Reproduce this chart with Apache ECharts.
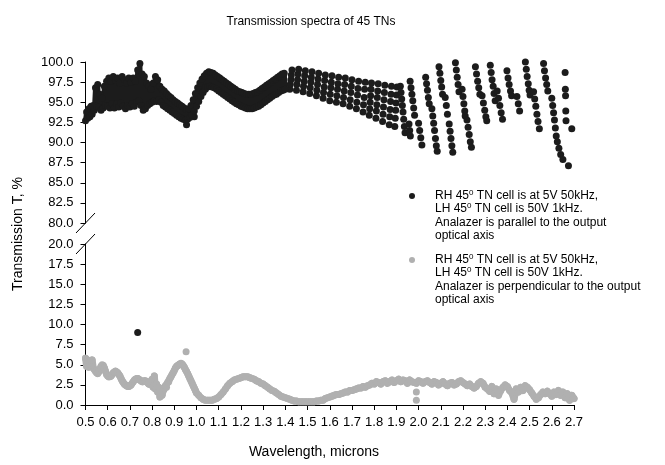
<!DOCTYPE html>
<html>
<head>
<meta charset="utf-8">
<script src="https://cdn.jsdelivr.net/npm/echarts@6/dist/echarts.min.js"></script>
<style>
  html, body { margin: 0; padding: 0; background: #fff; }
  #chart { width: 665px; height: 465px; }
</style>
</head>
<body>
<div id="chart"></div>
<script>
// x ticks (microns) and y ticks for the two halves of the broken axis
const xTicks = [0.5, 2.7, 0.1];
const upperTicks = [80, 100, 2.5];
const lowerTicks = [0, 20, 2.5];

// parallel analyzer, densely sampled part (drawn as a thick zigzag)
const parallelDense = [
  [0.500, 92.7], [0.505, 93.8], [0.510, 93.0], [0.515, 94.2], [0.520, 93.2], [0.525, 94.5],
  [0.530, 93.5], [0.535, 94.6], [0.540, 94.0], [0.545, 96.8], [0.550, 94.5], [0.555, 97.2],
  [0.560, 94.4], [0.565, 96.0], [0.570, 94.0], [0.575, 95.5], [0.580, 94.3], [0.585, 97.0],
  [0.590, 94.6], [0.595, 97.6], [0.600, 94.5], [0.605, 98.0], [0.610, 94.3], [0.615, 97.6],
  [0.620, 94.8], [0.625, 98.2], [0.630, 94.3], [0.635, 97.7], [0.640, 94.8], [0.645, 98.0],
  [0.650, 94.4], [0.655, 97.4], [0.660, 94.9], [0.665, 98.2], [0.670, 94.5], [0.675, 97.8],
  [0.680, 94.2], [0.685, 97.4], [0.690, 94.6], [0.695, 98.0], [0.700, 94.4], [0.705, 97.5],
  [0.710, 94.8], [0.715, 98.0], [0.720, 94.5], [0.725, 97.6], [0.730, 95.0], [0.735, 99.0],
  [0.740, 95.2], [0.745, 99.8], [0.750, 94.6], [0.755, 98.5], [0.760, 94.0], [0.765, 98.2],
  [0.770, 94.2], [0.775, 97.4], [0.780, 94.6], [0.785, 97.0], [0.790, 94.8], [0.795, 96.6],
  [0.800, 95.0], [0.805, 97.4], [0.810, 95.2], [0.815, 98.2], [0.820, 95.1], [0.825, 97.8],
  [0.830, 95.3], [0.835, 97.0], [0.840, 95.0], [0.845, 96.6], [0.850, 94.6], [0.855, 96.4],
  [0.860, 94.4], [0.865, 96.1], [0.870, 94.2], [0.875, 95.8], [0.880, 94.0], [0.885, 95.6],
  [0.890, 93.8], [0.895, 95.3], [0.900, 93.6], [0.905, 95.1], [0.910, 93.4], [0.915, 94.9],
  [0.920, 93.2], [0.925, 94.7], [0.930, 93.0], [0.935, 94.5], [0.940, 92.9], [0.945, 94.3],
  [0.950, 92.8], [0.955, 94.1], [0.960, 92.9], [0.965, 94.2], [0.970, 93.1], [0.975, 94.6],
  [0.980, 93.4], [0.985, 95.3], [0.990, 93.9], [0.995, 96.1], [1.000, 94.5], [1.005, 96.8],
  [1.010, 95.1], [1.015, 97.4], [1.020, 95.7], [1.025, 97.9], [1.030, 96.2], [1.035, 98.3],
  [1.040, 96.6], [1.045, 98.6], [1.050, 96.9], [1.055, 98.8], [1.060, 97.0], [1.065, 98.7],
  [1.070, 96.9], [1.075, 98.6], [1.080, 96.8], [1.085, 98.4], [1.090, 96.6], [1.095, 98.2],
  [1.100, 96.4], [1.105, 98.0], [1.110, 96.2], [1.115, 97.8], [1.120, 96.0], [1.125, 97.6],
  [1.130, 95.8], [1.135, 97.4], [1.140, 95.6], [1.145, 97.2], [1.150, 95.4], [1.155, 97.0],
  [1.160, 95.2], [1.165, 96.8], [1.170, 95.0], [1.175, 96.6], [1.180, 94.8], [1.185, 96.4],
  [1.190, 94.7], [1.195, 96.3], [1.200, 94.5], [1.205, 96.2], [1.210, 94.4], [1.215, 96.1],
  [1.220, 94.3], [1.225, 96.0], [1.230, 94.2], [1.235, 96.0], [1.240, 94.2], [1.245, 96.0],
  [1.250, 94.2], [1.255, 96.1], [1.260, 94.3], [1.265, 96.2], [1.270, 94.4], [1.275, 96.3],
  [1.280, 94.5], [1.285, 96.5], [1.290, 94.7], [1.295, 96.7], [1.300, 94.9], [1.305, 96.9],
  [1.310, 95.1], [1.315, 97.1], [1.320, 95.3], [1.325, 97.3], [1.330, 95.5], [1.335, 97.5],
  [1.340, 95.7], [1.345, 97.7], [1.350, 95.9], [1.355, 97.9], [1.360, 96.0], [1.365, 98.1],
  [1.370, 96.2], [1.375, 98.3], [1.380, 96.4], [1.385, 98.5], [1.390, 96.5], [1.395, 98.6],
  [1.400, 96.6]
];

// parallel analyzer, longer wavelengths: columns of separate dots
const parallelSparse = [
  [1.420, 96.6], [1.422, 97.2], [1.425, 97.8], [1.427, 98.4], [1.430, 99.0],
  [1.450, 96.5], [1.452, 97.2], [1.455, 97.8], [1.457, 98.5], [1.460, 99.1],
  [1.480, 96.3], [1.482, 97.0], [1.485, 97.6], [1.487, 98.3], [1.490, 98.9],
  [1.510, 96.1], [1.512, 96.8], [1.515, 97.5], [1.517, 98.1], [1.520, 98.8],
  [1.540, 95.8], [1.542, 96.5], [1.545, 97.2], [1.547, 97.9], [1.550, 98.6],
  [1.570, 95.5], [1.572, 96.2], [1.575, 96.9], [1.577, 97.7], [1.580, 98.4],
  [1.600, 95.2], [1.602, 96.0], [1.605, 96.8], [1.607, 97.5], [1.610, 98.3],
  [1.630, 95.0], [1.632, 95.8], [1.635, 96.6], [1.637, 97.3], [1.640, 98.1],
  [1.660, 94.8], [1.662, 95.6], [1.665, 96.4], [1.667, 97.2], [1.670, 98.0],
  [1.690, 94.5], [1.692, 95.3], [1.695, 96.2], [1.697, 97.0], [1.700, 97.8],
  [1.720, 94.2], [1.722, 95.0], [1.725, 95.9], [1.727, 96.7], [1.730, 97.6],
  [1.750, 93.8], [1.752, 94.7], [1.755, 95.6], [1.757, 96.6], [1.760, 97.5],
  [1.778, 93.4], [1.780, 94.2], [1.782, 95.0], [1.784, 95.8], [1.786, 96.6], [1.788, 97.4],
  [1.808, 93.0], [1.810, 93.9], [1.812, 94.7], [1.814, 95.6], [1.816, 96.4], [1.818, 97.3],
  [1.838, 92.6], [1.840, 93.5], [1.842, 94.4], [1.844, 95.3], [1.846, 96.2], [1.848, 97.1],
  [1.868, 92.2], [1.870, 93.2], [1.872, 94.1], [1.874, 95.1], [1.876, 96.0], [1.878, 97.0],
  [1.893, 92.0], [1.895, 93.0], [1.897, 94.0], [1.899, 94.9], [1.901, 95.9], [1.903, 96.9],
  [1.918, 97.0], [1.921, 96.2], [1.924, 95.4], [1.927, 94.6], [1.930, 93.8], [1.933, 92.9],
  [1.936, 92.0], [1.939, 91.2],
  [1.962, 97.6], [1.966, 96.8], [1.970, 96.0], [1.974, 95.2], [1.978, 94.3], [1.982, 93.4],
  [1.957, 92.3], [1.960, 91.5], [1.963, 90.8],
  [2.000, 92.4], [2.005, 91.5], [2.010, 90.6], [2.015, 89.7],
  [2.032, 98.1], [2.036, 97.3], [2.040, 96.5], [2.044, 95.6], [2.048, 94.8],
  [2.060, 94.2], [2.064, 93.3], [2.068, 92.4], [2.072, 91.5], [2.076, 90.5], [2.080, 89.6], [2.084, 88.9],
  [2.092, 99.4], [2.096, 98.6], [2.100, 97.7], [2.104, 96.9], [2.108, 96.0],
  [2.120, 95.6], [2.125, 94.6], [2.130, 93.5],
  [2.138, 92.3], [2.142, 91.4], [2.146, 90.5], [2.150, 89.6], [2.154, 88.8],
  [2.166, 99.9], [2.170, 99.0], [2.174, 98.1], [2.178, 97.2], [2.182, 96.3],
  [2.196, 96.6], [2.200, 95.7], [2.204, 94.8], [2.208, 93.9], [2.210, 93.3],
  [2.218, 92.8], [2.223, 91.9], [2.228, 91.0], [2.233, 90.1], [2.238, 89.4],
  [2.256, 99.4], [2.261, 98.5], [2.266, 97.6], [2.271, 96.8], [2.276, 96.0],
  [2.286, 95.8], [2.292, 94.9], [2.298, 94.0], [2.303, 93.2], [2.307, 92.7],
  [2.323, 99.6], [2.327, 98.7], [2.331, 97.8], [2.336, 97.0], [2.340, 96.1], [2.345, 95.2],
  [2.354, 96.4], [2.360, 95.5], [2.366, 94.6], [2.372, 93.7], [2.378, 92.9],
  [2.398, 98.9], [2.403, 98.0], [2.408, 97.2], [2.414, 96.4], [2.419, 95.8],
  [2.443, 95.7], [2.449, 94.8], [2.455, 93.9],
  [2.481, 100.0], [2.485, 99.1], [2.489, 98.2], [2.494, 97.3], [2.498, 96.5], [2.502, 95.9],
  [2.518, 96.3], [2.523, 95.4], [2.528, 94.5], [2.533, 93.5], [2.538, 92.6], [2.544, 91.7],
  [2.563, 99.8], [2.567, 98.9], [2.572, 98.0], [2.577, 97.2], [2.582, 96.4],
  [2.600, 95.5], [2.604, 94.6], [2.608, 93.7], [2.612, 92.8], [2.616, 91.8], [2.620, 90.8],
  [2.625, 90.1], [2.632, 89.3], [2.640, 88.5], [2.650, 87.9],
  [2.660, 98.7], [2.661, 96.6], [2.662, 95.8], [2.663, 93.9], [2.664, 92.7],
  [2.675, 87.1], [2.690, 91.7],
  [0.955, 92.2], [0.990, 93.2]
];
// the one parallel point that fell into the lower half
const parallelLow = [[0.735, 9.0]];

// perpendicular analyzer
const perpendicular = [
  [0.500, 5.8], [0.505, 4.8], [0.510, 5.6], [0.515, 4.7], [0.520, 5.5], [0.525, 5.0],
  [0.530, 5.6], [0.535, 4.6], [0.540, 4.4], [0.545, 4.2], [0.550, 4.0], [0.555, 3.9],
  [0.560, 4.1], [0.565, 4.5], [0.570, 4.8], [0.575, 5.0], [0.580, 4.9], [0.585, 4.6],
  [0.590, 4.2], [0.595, 3.8], [0.600, 3.6], [0.605, 3.5], [0.610, 3.5], [0.615, 3.6],
  [0.620, 3.8], [0.625, 4.0], [0.630, 4.1], [0.635, 4.2], [0.640, 4.1], [0.645, 4.0],
  [0.650, 3.8], [0.655, 3.6], [0.660, 3.3], [0.665, 3.0], [0.670, 2.8], [0.675, 2.6],
  [0.680, 2.5], [0.685, 2.4], [0.690, 2.3], [0.695, 2.3], [0.700, 2.4], [0.705, 2.5],
  [0.710, 2.7], [0.715, 2.9], [0.720, 3.1], [0.725, 3.2], [0.730, 3.3], [0.735, 3.3],
  [0.740, 3.2], [0.745, 3.1], [0.750, 3.0], [0.755, 2.9], [0.760, 2.9], [0.765, 3.0],
  [0.770, 3.0], [0.775, 2.9], [0.780, 2.8], [0.785, 2.6], [0.790, 2.9], [0.795, 2.5],
  [0.800, 3.2], [0.805, 2.2], [0.810, 3.6], [0.815, 2.0], [0.820, 2.6], [0.825, 1.6],
  [0.830, 2.2], [0.835, 1.0], [0.840, 1.6], [0.845, 1.2], [0.850, 1.8], [0.855, 2.0],
  [0.860, 2.4], [0.865, 2.2], [0.870, 2.8], [0.875, 2.9], [0.880, 3.3], [0.885, 3.5],
  [0.890, 3.8], [0.895, 4.0], [0.900, 4.3], [0.905, 4.6], [0.910, 4.8], [0.915, 4.9],
  [0.920, 5.0], [0.925, 5.1], [0.930, 5.2], [0.935, 5.1], [0.940, 4.9], [0.945, 4.7],
  [0.950, 4.4], [0.955, 4.2], [0.960, 3.9], [0.965, 3.6], [0.970, 3.3], [0.975, 3.0],
  [0.980, 2.7], [0.985, 2.4], [0.990, 2.1], [0.995, 1.8], [1.000, 1.5], [1.010, 1.2],
  [1.020, 0.9], [1.030, 0.7], [1.040, 0.6], [1.050, 0.6], [1.060, 0.6], [1.070, 0.6],
  [1.080, 0.7], [1.090, 0.8], [1.100, 1.0], [1.110, 1.3], [1.120, 1.6], [1.130, 2.0],
  [1.140, 2.4], [1.150, 2.7], [1.160, 2.9], [1.170, 3.1], [1.180, 3.2], [1.190, 3.3],
  [1.200, 3.4], [1.210, 3.5], [1.220, 3.5], [1.230, 3.5], [1.240, 3.4], [1.250, 3.3],
  [1.260, 3.2], [1.270, 3.0], [1.280, 2.9], [1.290, 2.7], [1.300, 2.6], [1.310, 2.4],
  [1.320, 2.2], [1.330, 2.0], [1.340, 1.8], [1.350, 1.7], [1.360, 1.5], [1.370, 1.3],
  [1.380, 1.1], [1.390, 1.0], [1.400, 0.9], [1.410, 0.8], [1.420, 0.7], [1.430, 0.6],
  [1.440, 0.5], [1.450, 0.5], [1.460, 0.4], [1.470, 0.4], [1.480, 0.4], [1.490, 0.4],
  [1.500, 0.4], [1.510, 0.4], [1.520, 0.4], [1.530, 0.4], [1.540, 0.5], [1.550, 0.5],
  [1.560, 0.6], [1.570, 0.6], [1.580, 0.8], [1.590, 0.9], [1.600, 1.0], [1.610, 1.1],
  [1.620, 1.2], [1.630, 1.3], [1.640, 1.3], [1.650, 1.4], [1.660, 1.5], [1.670, 1.6],
  [1.680, 1.6], [1.690, 1.8], [1.700, 1.8], [1.710, 1.9], [1.720, 2.0], [1.730, 2.1],
  [1.740, 2.1], [1.750, 2.3], [1.760, 2.2], [1.770, 2.4], [1.780, 2.5], [1.790, 2.7],
  [1.800, 2.6], [1.810, 2.9], [1.820, 2.8], [1.830, 2.6], [1.840, 2.9], [1.850, 3.0],
  [1.860, 2.7], [1.870, 2.9], [1.880, 3.1], [1.890, 2.8], [1.900, 3.0], [1.910, 3.2],
  [1.920, 2.9], [1.930, 3.1], [1.940, 3.0], [1.950, 2.7], [1.960, 3.1], [1.970, 2.9],
  [1.980, 2.8], [1.990, 2.7], [2.000, 3.0], [2.010, 2.9], [2.020, 2.7], [2.030, 2.9],
  [2.040, 3.0], [2.050, 2.8], [2.060, 2.6], [2.070, 2.9], [2.080, 2.8], [2.090, 2.5],
  [2.100, 2.7], [2.110, 2.9], [2.120, 2.6], [2.130, 2.4], [2.140, 2.7], [2.150, 2.8],
  [2.160, 2.5], [2.170, 2.6], [2.180, 2.9], [2.190, 3.0], [2.200, 2.8], [2.210, 2.6],
  [2.220, 2.4], [2.230, 2.6], [2.240, 2.3], [2.250, 2.1], [2.260, 2.3], [2.270, 2.7],
  [2.280, 2.9], [2.290, 2.7], [2.300, 2.2], [2.310, 2.0], [2.320, 1.7], [2.330, 2.3],
  [2.340, 1.4], [2.350, 2.0], [2.360, 1.2], [2.370, 1.8], [2.380, 2.2], [2.390, 2.5],
  [2.400, 2.3], [2.410, 1.8], [2.420, 1.5], [2.430, 0.7], [2.440, 2.0], [2.450, 1.6],
  [2.460, 2.2], [2.470, 1.8], [2.480, 2.4], [2.490, 2.2], [2.500, 1.9], [2.510, 1.5],
  [2.520, 1.1], [2.530, 0.7], [2.540, 0.9], [2.550, 1.3], [2.560, 1.6], [2.570, 1.4],
  [2.580, 1.7], [2.590, 1.4], [2.600, 1.1], [2.610, 1.6], [2.620, 1.3], [2.630, 1.8],
  [2.640, 1.2], [2.650, 1.6], [2.660, 0.9], [2.670, 1.4], [2.680, 0.6], [2.690, 1.2],
  [2.700, 0.8]
];
const perpendicularOut = [[0.953, 6.6], [1.990, 1.6], [1.990, 0.6]];

const legendLines = [
  ["RH 45", "0", " TN cell is at 5V 50kHz,"],
  ["LH 45", "0", " TN cell is 50V 1kHz."],
  ["Analazer is parallel to the output"],
  ["optical axis"]
];
const legendLines2 = [
  ["RH 45", "0", " TN cell is at 5V 50kHz,"],
  ["LH 45", "0", " TN cell is 50V 1kHz."],
  ["Analazer is perpendicular to the output"],
  ["optical axis"]
];

const FONT = "'Liberation Sans', Arial, sans-serif";
const BLACK = "#1c1c1c";
const GRAY = "#b0b0b0";

const chart = echarts.init(document.getElementById("chart"));

// turn [["RH 45","0"," TN ..."], ...] into rich text
const richText = (lines) =>
  lines.map((l) => l.map((p, i) => (i === 1 ? "{s|" + p + "}" : "{t|" + p + "}")).join("")).join("\n");

const legendRich = {
  t: { fontSize: 12, fontFamily: FONT, lineHeight: 13.5, color: "#000" },
  s: { fontSize: 8, fontFamily: FONT, lineHeight: 13.5, verticalAlign: "top", color: "#000" }
};

const yAxisCommon = {
  type: "value",
  axisLine: { show: true, lineStyle: { color: "#000", width: 1 } },
  axisTick: { show: true, length: 5, lineStyle: { color: "#000" } },
  axisLabel: { color: "#000", fontSize: 13, fontFamily: FONT, margin: 12, formatter: (v) => v.toFixed(1) },
  splitLine: { show: false }
};

const option = {
  animation: false,
  backgroundColor: "#fff",
  title: {
    text: "Transmission spectra of 45 TNs",
    left: 306,
    top: 11,
    textAlign: "center",
    textStyle: { fontSize: 12, fontWeight: "normal", color: "#000", fontFamily: FONT }
  },
  grid: [
    { left: 85.5, right: 91, top: 62, height: 161 },
    { left: 85.5, right: 91, top: 244, height: 161 }
  ],
  xAxis: [
    { type: "value", gridIndex: 0, min: xTicks[0], max: xTicks[1], show: false },
    {
      type: "value",
      gridIndex: 1,
      min: xTicks[0],
      max: xTicks[1],
      interval: xTicks[2],
      axisLine: { show: true, lineStyle: { color: "#000", width: 1 } },
      axisTick: { show: true, length: 5, lineStyle: { color: "#000" } },
      axisLabel: { color: "#000", fontSize: 13, fontFamily: FONT, margin: 11, formatter: (v) => v.toFixed(1) },
      splitLine: { show: false }
    }
  ],
  yAxis: [
    Object.assign({}, yAxisCommon, { gridIndex: 0, min: upperTicks[0], max: upperTicks[1], interval: upperTicks[2] }),
    Object.assign({}, yAxisCommon, { gridIndex: 1, min: lowerTicks[0], max: lowerTicks[1], interval: lowerTicks[2] })
  ],
  series: [
    {
      type: "line",
      xAxisIndex: 1,
      yAxisIndex: 1,
      data: perpendicular,
      symbol: "circle",
      symbolSize: 7,
      showAllSymbol: true,
      lineStyle: { color: GRAY, width: 7, cap: "round", join: "round" },
      itemStyle: { color: GRAY },
      silent: true
    },
    {
      type: "scatter",
      xAxisIndex: 1,
      yAxisIndex: 1,
      data: perpendicularOut,
      symbolSize: 7,
      itemStyle: { color: GRAY, opacity: 1 }
    },
    {
      type: "line",
      xAxisIndex: 0,
      yAxisIndex: 0,
      data: parallelDense,
      symbol: "circle",
      symbolSize: 7,
      showAllSymbol: true,
      lineStyle: { color: BLACK, width: 5, cap: "round", join: "round" },
      itemStyle: { color: BLACK },
      silent: true
    },
    {
      type: "scatter",
      xAxisIndex: 0,
      yAxisIndex: 0,
      data: parallelSparse,
      symbolSize: 7,
      itemStyle: { color: BLACK, opacity: 1 }
    },
    {
      type: "scatter",
      xAxisIndex: 1,
      yAxisIndex: 1,
      data: parallelLow,
      symbolSize: 7,
      itemStyle: { color: BLACK, opacity: 1 }
    }
  ],
  graphic: [
    // axis break marks
    { type: "line", shape: { x1: 76, y1: 233, x2: 95, y2: 213 }, style: { stroke: "#000", lineWidth: 1 } },
    { type: "line", shape: { x1: 76, y1: 254, x2: 95, y2: 234 }, style: { stroke: "#000", lineWidth: 1 } },
    // y axis title
    {
      type: "text",
      x: 18,
      y: 234,
      rotation: Math.PI / 2,
      style: { text: "Transmission T, %", font: "14px " + FONT, fill: "#000", textAlign: "center", textVerticalAlign: "middle" }
    },
    // x axis title
    {
      type: "text",
      x: 314,
      y: 452,
      style: { text: "Wavelength, microns", font: "14px " + FONT, fill: "#000", textAlign: "center", textVerticalAlign: "middle" }
    },
    // legend
    { type: "circle", shape: { cx: 412, cy: 196, r: 3 }, style: { fill: BLACK } },
    { type: "circle", shape: { cx: 412, cy: 260, r: 3 }, style: { fill: GRAY } },
    { type: "text", x: 435, y: 188.5, style: { text: richText(legendLines), fill: "#000", rich: legendRich } },
    { type: "text", x: 435, y: 252.5, style: { text: richText(legendLines2), fill: "#000", rich: legendRich } }
  ]
};

chart.setOption(option);
</script>
</body>
</html>
